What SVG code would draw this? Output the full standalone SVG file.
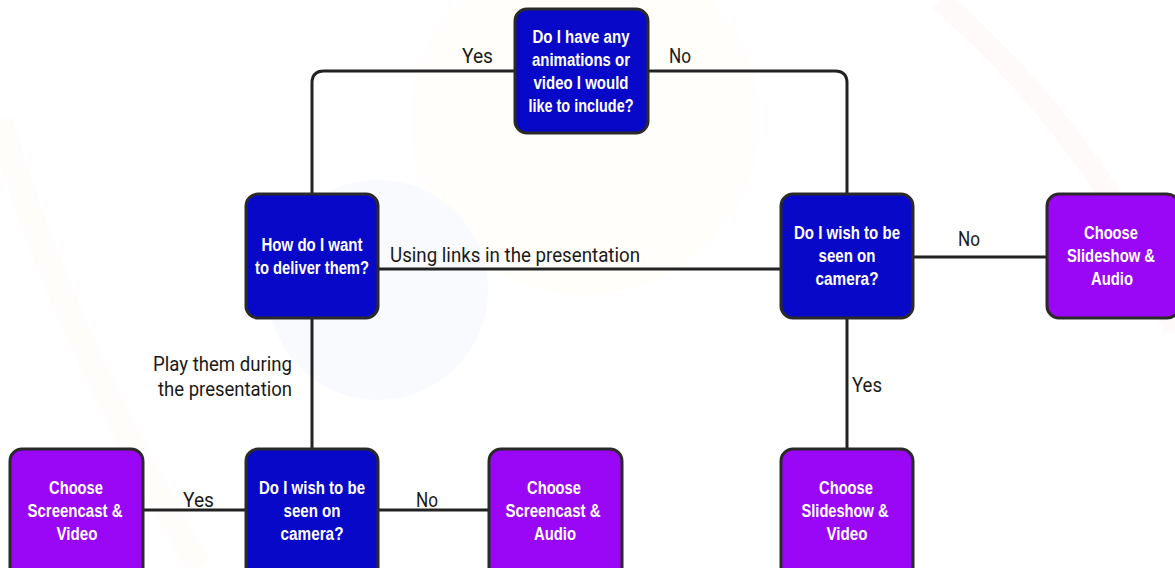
<svg xmlns="http://www.w3.org/2000/svg" width="1175" height="568" viewBox="0 0 1175 568">
<style>
.box{stroke:#2a2a2a;stroke-width:3}
.q{fill:#0808c8}
.c{fill:#9a06f6}
.bt{font-family:"Liberation Sans",Arial,sans-serif;font-weight:bold;font-size:18px;fill:#ffffff;text-anchor:middle}
.lb{font-family:Roboto,"Liberation Sans",sans-serif;font-size:20px;fill:#1a1a1a}
.ln{fill:none;stroke:#222;stroke-width:3}
</style>
<rect width="1175" height="568" fill="#ffffff"/>
<g id="background">
<circle cx="585" cy="120" r="175" fill="#fffefa"/>
<circle cx="378" cy="290" r="110" fill="#f8fafd"/>
<path d="M940,0 Q1110,150 1175,330" fill="none" stroke="#fefaf9" stroke-width="22"/>
<path d="M0,120 Q60,330 200,568" fill="none" stroke="#fffdf9" stroke-width="26"/>
</g>
<g id="connectors">
<path class="ln" d="M515,71 H324 Q312,71 312,83 V194"/>
<path class="ln" d="M648,71 H835 Q847,71 847,83 V194"/>
<path class="ln" d="M378,269 H781"/>
<path class="ln" d="M913,257 H1047"/>
<path class="ln" d="M312,318 V449"/>
<path class="ln" d="M847,318 V449"/>
<path class="ln" d="M246,510 H143"/>
<path class="ln" d="M378,510 H489"/>
<text class="lb" x="462" y="63" textLength="31" lengthAdjust="spacingAndGlyphs">Yes</text>
<text class="lb" x="669" y="63" textLength="22" lengthAdjust="spacingAndGlyphs">No</text>
<text class="lb" x="390" y="262" textLength="250" lengthAdjust="spacingAndGlyphs">Using links in the presentation</text>
<text class="lb" x="958" y="246" textLength="22" lengthAdjust="spacingAndGlyphs">No</text>
<text class="lb" x="153" y="371" textLength="139" lengthAdjust="spacingAndGlyphs">Play them during</text>
<text class="lb" x="158" y="396" textLength="134" lengthAdjust="spacingAndGlyphs">the presentation</text>
<text class="lb" x="852" y="392" textLength="30" lengthAdjust="spacingAndGlyphs">Yes</text>
<text class="lb" x="183" y="507" textLength="31" lengthAdjust="spacingAndGlyphs">Yes</text>
<text class="lb" x="416" y="507" textLength="22" lengthAdjust="spacingAndGlyphs">No</text>
</g>
<g id="q-animations">
<rect class="box q" x="515" y="9" width="133" height="124" rx="12"/>
<text class="bt" x="581" y="43" textLength="97" lengthAdjust="spacingAndGlyphs">Do I have any</text>
<text class="bt" x="581" y="66" textLength="98" lengthAdjust="spacingAndGlyphs">animations or</text>
<text class="bt" x="581" y="89" textLength="95" lengthAdjust="spacingAndGlyphs">video I would</text>
<text class="bt" x="581" y="112" textLength="105" lengthAdjust="spacingAndGlyphs">like to include?</text>
</g>
<g id="q-deliver">
<rect class="box q" x="246" y="194" width="132" height="124" rx="12"/>
<text class="bt" x="312" y="251" textLength="101" lengthAdjust="spacingAndGlyphs">How do I want</text>
<text class="bt" x="312" y="274" textLength="114" lengthAdjust="spacingAndGlyphs">to deliver them?</text>
</g>
<g id="q-camera-right">
<rect class="box q" x="781" y="194" width="132" height="124" rx="12"/>
<text class="bt" x="847" y="239" textLength="106" lengthAdjust="spacingAndGlyphs">Do I wish to be</text>
<text class="bt" x="847" y="262" textLength="57" lengthAdjust="spacingAndGlyphs">seen on</text>
<text class="bt" x="847" y="285" textLength="63" lengthAdjust="spacingAndGlyphs">camera?</text>
</g>
<g id="slideshow-audio">
<rect class="box c" x="1047" y="194" width="132" height="124" rx="12"/>
<text class="bt" x="1111" y="239" textLength="54" lengthAdjust="spacingAndGlyphs">Choose</text>
<text class="bt" x="1111" y="262" textLength="88" lengthAdjust="spacingAndGlyphs">Slideshow &amp;</text>
<text class="bt" x="1112" y="285" textLength="42" lengthAdjust="spacingAndGlyphs">Audio</text>
</g>
<g id="screencast-video">
<rect class="box c" x="10" y="449" width="133" height="130" rx="12"/>
<text class="bt" x="76" y="494" textLength="54" lengthAdjust="spacingAndGlyphs">Choose</text>
<text class="bt" x="75" y="517" textLength="95" lengthAdjust="spacingAndGlyphs">Screencast &amp;</text>
<text class="bt" x="77" y="540" textLength="41" lengthAdjust="spacingAndGlyphs">Video</text>
</g>
<g id="q-camera-bottom">
<rect class="box q" x="246" y="449" width="132" height="130" rx="12"/>
<text class="bt" x="312" y="494" textLength="106" lengthAdjust="spacingAndGlyphs">Do I wish to be</text>
<text class="bt" x="312" y="517" textLength="57" lengthAdjust="spacingAndGlyphs">seen on</text>
<text class="bt" x="312" y="540" textLength="63" lengthAdjust="spacingAndGlyphs">camera?</text>
</g>
<g id="screencast-audio">
<rect class="box c" x="489" y="449" width="133" height="130" rx="12"/>
<text class="bt" x="554" y="494" textLength="54" lengthAdjust="spacingAndGlyphs">Choose</text>
<text class="bt" x="553" y="517" textLength="95" lengthAdjust="spacingAndGlyphs">Screencast &amp;</text>
<text class="bt" x="555" y="540" textLength="42" lengthAdjust="spacingAndGlyphs">Audio</text>
</g>
<g id="slideshow-video">
<rect class="box c" x="781" y="449" width="132" height="130" rx="12"/>
<text class="bt" x="846" y="494" textLength="54" lengthAdjust="spacingAndGlyphs">Choose</text>
<text class="bt" x="845" y="517" textLength="87" lengthAdjust="spacingAndGlyphs">Slideshow &amp;</text>
<text class="bt" x="847" y="540" textLength="41" lengthAdjust="spacingAndGlyphs">Video</text>
</g>
</svg>
